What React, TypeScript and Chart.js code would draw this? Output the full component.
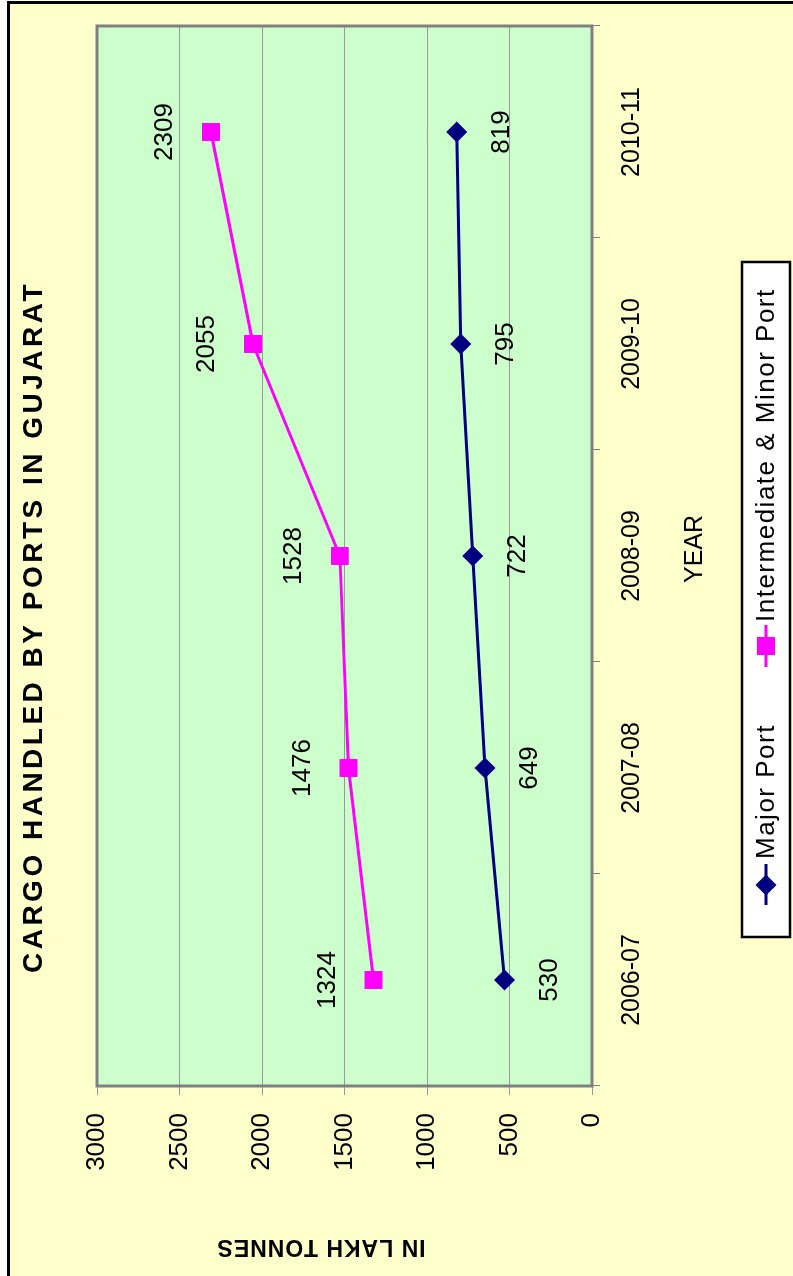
import React, { useEffect, useRef } from 'react';
import { Chart, registerables } from 'chart.js';

Chart.register(...registerables);

// ---- data ----
const years = ['2006-07', '2007-08', '2008-09', '2009-10', '2010-11'];
const majorPort = [530, 649, 722, 795, 819];
const minorPort = [1324, 1476, 1528, 2055, 2309];
const seriesNames = ['Major Port', 'Intermediate & Minor Port'];
const yMin = 0;
const yMax = 3000;
const yStep = 500;
const titleText = 'CARGO HANDLED BY PORTS IN GUJARAT';
const yTitleText = 'IN LAKH TONNES';
const xTitleText = 'YEAR';

// ---- style ----
const W = 1276;
const H = 793;
const FONT = '"Liberation Sans", Arial, Helvetica, sans-serif';
const NAVY = '#000080';
const MAGENTA = '#FF00FF';

const decoPlugin = {
  id: 'deco',
  beforeDraw(chart: any) {
    const ctx = chart.ctx;
    const a = chart.chartArea;
    ctx.save();
    ctx.fillStyle = '#ffffff';
    ctx.fillRect(0, 0, W, H);
    ctx.fillStyle = '#FFFFCC';
    ctx.fillRect(0, 7, 1274, H - 7);
    ctx.fillStyle = '#000000';
    ctx.fillRect(0, 7, 1275, 3);
    ctx.fillRect(1272, 7, 3, H - 7);
    ctx.fillStyle = '#CCFFCC';
    ctx.fillRect(a.left, a.top, a.right - a.left, a.bottom - a.top);
    ctx.restore();
  },
  beforeDatasetsDraw(chart: any) {
    const ctx = chart.ctx;
    const a = chart.chartArea;
    ctx.save();
    ctx.strokeStyle = '#808080';
    ctx.lineWidth = 3;
    ctx.strokeRect(a.left, a.top, a.right - a.left, a.bottom - a.top);
    ctx.restore();
  },
  afterDatasetsDraw(chart: any) {
    const ctx = chart.ctx;
    ctx.save();
    ctx.fillStyle = '#000000';
    ctx.textAlign = 'center';
    ctx.textBaseline = 'middle';

    // data labels
    ctx.font = `26px ${FONT}`;
    const m0 = chart.getDatasetMeta(0);
    m0.data.forEach((pt: any, i: number) => {
      ctx.fillText(String(majorPort[i]), pt.x, pt.y + 45);
    });
    const m1 = chart.getDatasetMeta(1);
    m1.data.forEach((pt: any, i: number) => {
      ctx.fillText(String(minorPort[i]), pt.x, pt.y - 46);
    });

    // title
    ctx.font = `bold 28px ${FONT}`;
    (ctx as any).letterSpacing = '3.5px';
    ctx.fillText(titleText, 649, 34);

    // y title
    ctx.save();
    ctx.translate(30, 321);
    ctx.rotate(-Math.PI / 2);
    ctx.font = `bold 23px ${FONT}`;
    (ctx as any).letterSpacing = '1px';
    ctx.fillText(yTitleText, 0, 0);
    ctx.restore();

    // x title
    (ctx as any).letterSpacing = '0px';
    ctx.font = `25px ${FONT}`;
    ctx.fillText(xTitleText, 727, 695);

    // legend
    const bx = 339, by = 742, bw = 675, bh = 48;
    ctx.fillStyle = '#ffffff';
    ctx.fillRect(bx, by, bw, bh);
    ctx.strokeStyle = '#000000';
    ctx.lineWidth = 2.5;
    ctx.strokeRect(bx, by, bw, bh);
    const cy = by + bh / 2;

    // item 1
    ctx.strokeStyle = NAVY;
    ctx.lineWidth = 3;
    ctx.beginPath();
    ctx.moveTo(371, cy);
    ctx.lineTo(412, cy);
    ctx.stroke();
    ctx.fillStyle = NAVY;
    ctx.beginPath();
    ctx.moveTo(391 - 10.5, cy);
    ctx.lineTo(391, cy - 10.5);
    ctx.lineTo(391 + 10.5, cy);
    ctx.lineTo(391, cy + 10.5);
    ctx.closePath();
    ctx.fill();

    // item 2
    ctx.strokeStyle = MAGENTA;
    ctx.beginPath();
    ctx.moveTo(609, cy);
    ctx.lineTo(651, cy);
    ctx.stroke();
    ctx.fillStyle = MAGENTA;
    ctx.fillRect(630 - 9, cy - 9, 18, 18);

    ctx.fillStyle = '#000000';
    ctx.textAlign = 'left';
    ctx.font = `26px ${FONT}`;
    (ctx as any).letterSpacing = '1.5px';
    ctx.fillText(seriesNames[0], 417, cy + 1);
    ctx.fillText(seriesNames[1], 654, cy + 1);
    (ctx as any).letterSpacing = '0px';
    ctx.restore();
  },
};

export default function App() {
  const ref = useRef<HTMLCanvasElement | null>(null);

  useEffect(() => {
    const canvas = ref.current;
    if (!canvas) return;
    const chart = new Chart(canvas, {
      type: 'line',
      data: {
        labels: years,
        datasets: [
          {
            label: seriesNames[0],
            data: majorPort,
            borderColor: NAVY,
            backgroundColor: NAVY,
            borderWidth: 3,
            pointStyle: 'rectRot',
            pointRadius: 10.5,
            pointBorderWidth: 0,
            pointBackgroundColor: NAVY,
            tension: 0,
            fill: false,
          },
          {
            label: seriesNames[1],
            data: minorPort,
            borderColor: MAGENTA,
            backgroundColor: MAGENTA,
            borderWidth: 3,
            pointStyle: 'rect',
            pointRadius: 12.7,
            pointBorderWidth: 0,
            pointBackgroundColor: MAGENTA,
            tension: 0,
            fill: false,
          },
        ],
      },
      options: {
        responsive: false,
        maintainAspectRatio: false,
        animation: false,
        devicePixelRatio: 1,
        events: [],
        layout: { padding: { left: 0, right: 26, top: 97, bottom: 0 } },
        plugins: {
          legend: { display: false },
          title: { display: false },
          tooltip: { enabled: false },
        },
        scales: {
          x: {
            type: 'category',
            offset: true,
            grid: {
              offset: true,
              drawOnChartArea: false,
              drawTicks: true,
              tickLength: 8,
              color: '#808080',
              lineWidth: 1,
            },
            border: { display: false },
            ticks: {
              color: '#000000',
              font: { family: FONT, size: 25 },
              padding: 17,
              maxRotation: 0,
              autoSkip: false,
            },
            afterFit: (s: any) => {
              s.height = 201;
            },
          },
          y: {
            min: yMin,
            max: yMax,
            grid: {
              color: '#999999',
              lineWidth: 1,
              drawTicks: true,
              tickLength: 9,
            },
            border: { display: false },
            ticks: {
              stepSize: yStep,
              color: '#000000',
              font: { family: FONT, size: 26 },
              padding: 18,
              callback: (v: any) => String(v),
            },
            afterFit: (s: any) => {
              s.width = 190;
            },
          },
        },
      } as any,
      plugins: [decoPlugin],
    });
    return () => chart.destroy();
  }, []);

  return (
    <div
      style={{
        position: 'absolute',
        left: 0,
        top: 0,
        width: H,
        height: W,
        overflow: 'hidden',
        background: '#ffffff',
      }}
    >
      <div
        style={{
          position: 'absolute',
          left: 0,
          top: 0,
          width: W,
          height: H,
          transformOrigin: '0 0',
          transform: `translate(0px, ${W}px) rotate(-90deg)`,
        }}
      >
        <canvas ref={ref} width={W} height={H} style={{ display: 'block', width: W, height: H }} />
      </div>
    </div>
  );
}
